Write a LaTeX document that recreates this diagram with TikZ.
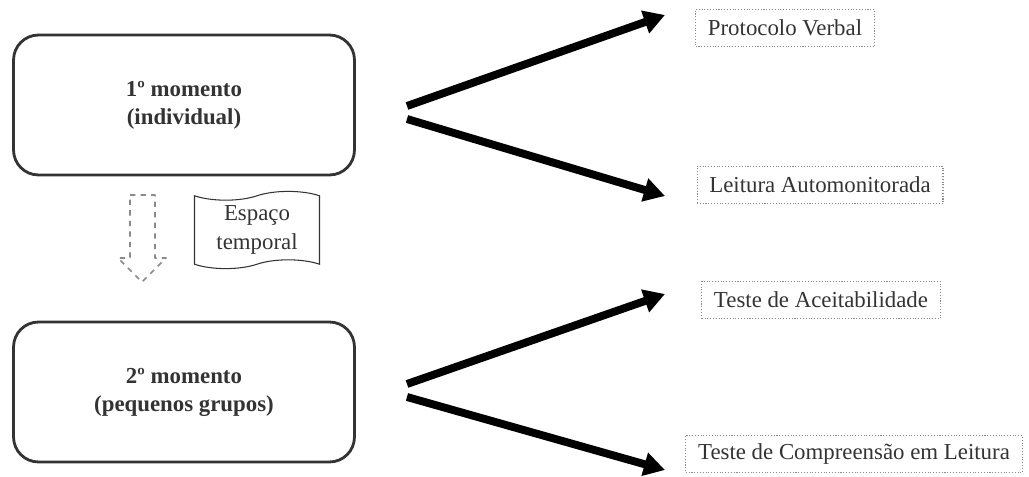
\documentclass[tikz,border=0pt]{standalone}
\usepackage{fontspec}
\setmainfont{Liberation Serif}
\usepackage{xcolor}
\usetikzlibrary{arrows.meta,shapes.symbols}
\definecolor{grafite}{HTML}{333333}
\definecolor{cinzaponto}{HTML}{8A8A8A}

\tikzset{
  momento/.style={draw=grafite, line width=1.6pt, rounded corners=0.5cm,
    minimum width=6.82cm, minimum height=2.8cm, align=center,
    font=\fontsize{13}{16}\selectfont\bfseries, text=grafite},
  tarefa/.style={draw=cinzaponto, densely dotted, line width=0.6pt,
    minimum height=0.75cm, inner xsep=7pt, font=\fontsize{13}{16}\selectfont, text=grafite},
  seta/.style={line width=4.5pt, -{Triangle[length=12pt, width=13pt]}}
}

\begin{document}
\begin{tikzpicture}[x=0.02cm, y=-0.02cm]
  \useasboundingbox (0,0) rectangle (1029,477);

  % os dois momentos
  \node[momento] (m1) at (184,105) {1º momento\\(individual)};
  \node[momento] (m2) at (184,392) {2º momento\\(pequenos grupos)};

  % espaco temporal entre eles
  \draw[cinzaponto, dashed, line width=1pt, line join=round]
    (130,195) -- (155,195) -- (155,258) -- (166,258) -- (142,282) -- (118,258) -- (130,258) -- cycle;
  \node[tape, draw=grafite, line width=0.6pt, minimum width=2.5cm, minimum height=1.3cm,
    align=center, font=\fontsize{13}{16}\selectfont, text=grafite] (esp) at (257,230) {Espaço\\temporal};

  % instrumentos
  \node[tarefa] (pv) at (785,28) {Protocolo Verbal};
  \node[tarefa] (la) at (820,185) {Leitura Automonitorada};
  \node[tarefa] (ta) at (821,300) {Teste de Aceitabilidade};
  \node[tarefa] (tc) at (854,454) {Teste de Compreensão em Leitura};

  \coordinate (s1) at (407,106);
  \coordinate (s2) at (407,119);
  \coordinate (s3) at (407,384);
  \coordinate (s4) at (407,397);
  \coordinate (e1) at (665,15);
  \coordinate (e2) at (665,196);
  \coordinate (e3) at (665,294);
  \coordinate (e4) at (665,470);

  \draw[seta] (s1) -- (e1);
  \draw[seta] (s2) -- (e2);
  \draw[seta] (s3) -- (e3);
  \draw[seta] (s4) -- (e4);
\end{tikzpicture}
\end{document}
